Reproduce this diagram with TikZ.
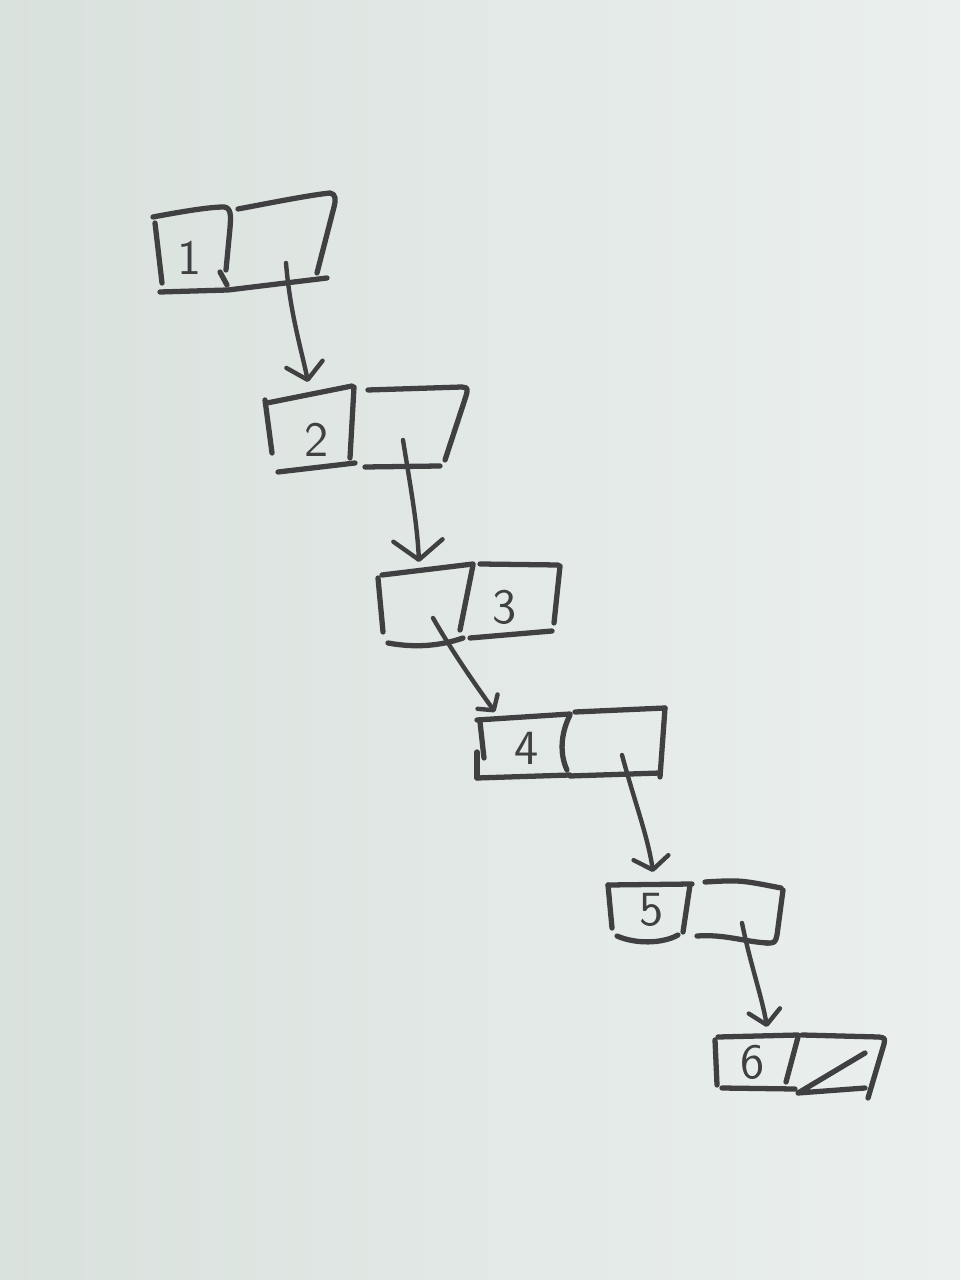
\documentclass[tikz,border=0pt]{standalone}
\usetikzlibrary{arrows.meta}
\definecolor{ink}{RGB}{64,64,66}
\definecolor{boardL}{RGB}{217,225,221}
\definecolor{boardR}{RGB}{235,240,238}
\begin{document}
\begin{tikzpicture}[x=0.01cm,y=-0.01cm,
  pen/.style={draw=ink,line width=1.5pt,line cap=round,line join=round},
  cell/.style={inner sep=0pt,minimum size=0pt,text=ink,
    font=\sffamily\fontsize{14}{14}\selectfont},
  ptr/.style n args={2}{pen,line width=1.25pt,
    -{Straight Barb[length=#1,width=#2,round]}}]
% whiteboard
\useasboundingbox (0,0) rectangle (960,1280);
\shade[left color=boardL,right color=boardR] (0,0) rectangle (960,1280);

% cells: value cell and pointer cell of each list element
\node[cell] (c1a) at (190,258) {1};
\node[cell] (c1b) at (284,241) {};
\node[cell] (c2a) at (317,440) {2};
\node[cell] (c2b) at (415,428) {};
\node[cell] (c3a) at (425,604) {};
\node[cell] (c3b) at (505,607) {3};
\node[cell] (c4a) at (527,748) {4};
\node[cell] (c4b) at (617,743) {};
\node[cell] (c5a) at (652,910) {5};
\node[cell] (c5b) at (741,913) {};
\node[cell] (c6a) at (753,1062) {6};
\node[cell] (c6b) at (835,1063) {};

% element 1
\draw[pen] (153,217) .. controls (185,211) and (210,207) .. (224,207)
  .. controls (231,208) and (231,215) .. (230,228) -- (226,270);
\draw[pen] (220,272) -- (227,285);
\draw[pen] (155,223) -- (162,283);
\draw[pen] (160,292) -- (228,290) -- (327,278);
\draw[pen] (238,209) .. controls (270,203) and (310,195) .. (330,193)
  .. controls (336,194) and (336,200) .. (334,207) -- (317,273);

% element 2
\draw[pen] (267,403) -- (352,386);
\draw[pen] (354,387) -- (350,458);
\draw[pen] (265,400) -- (272,453);
\draw[pen] (278,472) -- (355,463);
\draw[pen] (368,390) -- (462,387) .. controls (468,388) .. (466,396) -- (445,460);
\draw[pen] (365,467) -- (440,466);

% element 3
\draw[pen] (382,575) -- (473,564);
\draw[pen] (378,578) -- (383,632);
\draw[pen] (473,565) -- (460,630);
\draw[pen] (388,643) .. controls (415,648) and (440,646) .. (463,638);
\draw[pen] (480,564) -- (558,565);
\draw[pen] (560,566) -- (554,623);
\draw[pen] (470,638) -- (552,631);

% element 4
\draw[pen] (477,720) -- (570,714);
\draw[pen] (480,722) -- (484,758);
\draw[pen] (477,752) -- (477,778);
\draw[pen] (477,778) -- (570,775);
\draw[pen] (570,715) .. controls (560,735) and (560,755) .. (567,770);
\draw[pen] (575,712) -- (665,708);
\draw[pen] (665,708) -- (660,777);
\draw[pen] (570,776) -- (660,773);

% element 5
\draw[pen] (608,885) -- (692,884);
\draw[pen] (608,885) -- (612,928);
\draw[pen] (690,885) -- (683,932);
\draw[pen] (617,936) .. controls (635,944) and (662,944) .. (678,935);
\draw[pen] (705,882) .. controls (740,880) .. (781,888);
\draw[pen] (783,890) -- (777,935) .. controls (775,943) .. (766,943);
\draw[pen] (697,936) .. controls (725,934) and (745,942) .. (768,943);

% element 6, with the null pointer
\draw[pen] (718,1037) -- (798,1035);
\draw[pen] (715,1040) -- (717,1085);
\draw[pen] (798,1037) -- (786,1082);
\draw[pen] (722,1088) -- (795,1089);
\draw[pen] (802,1035) -- (879,1037) .. controls (885,1038) .. (884,1044) -- (868,1098);
\draw[pen] (865,1053) -- (798,1093) -- (865,1088);

% next pointers
\draw[ptr={4.5pt}{10.5pt}] ([shift={(2,22)}]c1b.center)
  .. controls +(4,50) and +(-6,-30) .. ([shift={(-9,-58)}]c2a.center);
\draw[ptr={5.5pt}{14pt}] ([shift={(-12,12)}]c2b.center)
  .. controls +(8,50) and +(-2,-40) .. ([shift={(-6,-42)}]c3a.center);
\draw[ptr={3pt}{7pt}] ([shift={(8,14)}]c3a.center)
  .. controls +(20,35) and +(-18,-25) .. ([shift={(-32,-36)}]c4a.center);
\draw[ptr={3.5pt}{10pt}] ([shift={(5,12)}]c4b.center)
  .. controls +(12,45) and +(-5,-35) .. ([shift={(1,-38)}]c5a.center);
\draw[ptr={4pt}{9pt}] ([shift={(1,10)}]c5b.center)
  .. controls +(8,40) and +(-5,-30) .. ([shift={(14,-35)}]c6a.center);
\end{tikzpicture}
\end{document}
